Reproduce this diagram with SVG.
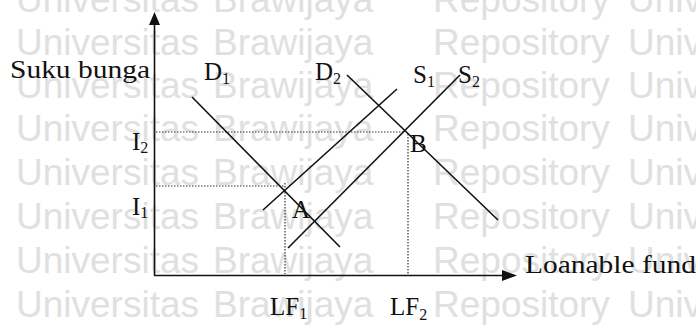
<svg xmlns="http://www.w3.org/2000/svg" width="696" height="327" viewBox="0 0 696 327">
<style>
.wm{font-family:"Liberation Sans",Arial,sans-serif;font-size:37px;fill:#e0e0e0}
.t{font-family:"Liberation Serif","Times New Roman",serif;font-size:25px;fill:#111}
.sub{font-size:16px}
.ln{stroke:#111;stroke-width:1.6;fill:none}
.dot{stroke:#333;stroke-width:1.2;stroke-dasharray:1.5 1.5;fill:none}
</style>
<rect width="696" height="327" fill="#fff"/>
<g id="watermark" class="wm">
<text x="16" y="12">Universitas</text><text x="213" y="12">Brawijaya</text><text x="433" y="12">Repository</text><text x="628" y="12">Universitas</text>
<text x="16" y="55">Universitas</text><text x="213" y="55">Brawijaya</text><text x="433" y="55">Repository</text><text x="628" y="55">Universitas</text>
<text x="16" y="98">Universitas</text><text x="213" y="98">Brawijaya</text><text x="433" y="98">Repository</text><text x="628" y="98">Universitas</text>
<text x="16" y="141">Universitas</text><text x="213" y="141">Brawijaya</text><text x="433" y="141">Repository</text><text x="628" y="141">Universitas</text>
<text x="16" y="185">Universitas</text><text x="213" y="185">Brawijaya</text><text x="433" y="185">Repository</text><text x="628" y="185">Universitas</text>
<text x="16" y="229">Universitas</text><text x="213" y="229">Brawijaya</text><text x="433" y="229">Repository</text><text x="628" y="229">Universitas</text>
<text x="16" y="273">Universitas</text><text x="213" y="273">Brawijaya</text><text x="433" y="273">Repository</text><text x="628" y="273">Universitas</text>
<text x="16" y="317">Universitas</text><text x="213" y="317">Brawijaya</text><text x="433" y="317">Repository</text><text x="628" y="317">Universitas</text>
</g>
<g id="axes">
<line class="ln" x1="154.5" y1="22" x2="154.5" y2="275.5"/>
<line class="ln" x1="154" y1="275.5" x2="504" y2="275.5"/>
<polygon points="154.5,12 149,25 160,25" fill="#111"/>
<polygon points="517,275.5 502,270 502,281" fill="#111"/>
</g>
<g id="connectors">
<line class="dot" x1="156" y1="132" x2="405" y2="132"/>
<line class="dot" x1="408" y1="134" x2="408" y2="274"/>
<line class="dot" x1="156" y1="186" x2="284" y2="186"/>
<line class="dot" x1="285" y1="183" x2="285" y2="274"/>
</g>
<g id="D1"><line class="ln" x1="192" y1="97" x2="340" y2="247"/></g>
<g id="D2"><line class="ln" x1="347" y1="75" x2="498" y2="220"/></g>
<g id="S1"><line class="ln" x1="397" y1="89" x2="263" y2="210"/></g>
<g id="S2"><line class="ln" x1="460" y1="75" x2="288" y2="248"/></g>
<g id="labels" class="t">
<text x="10" y="78" textLength="140" lengthAdjust="spacingAndGlyphs">Suku bunga</text>
<text x="204" y="80">D<tspan class="sub" dy="4">1</tspan></text>
<text x="315" y="80">D<tspan class="sub" dy="4">2</tspan></text>
<text x="413" y="83">S<tspan class="sub" dy="4">1</tspan></text>
<text x="458" y="83">S<tspan class="sub" dy="4">2</tspan></text>
<text x="132" y="150">I<tspan class="sub" dy="3">2</tspan></text>
<text x="132" y="215">I<tspan class="sub" dy="3">1</tspan></text>
<text x="292" y="218">A</text>
<text x="410" y="152">B</text>
<text x="270" y="315">LF<tspan class="sub" dy="4">1</tspan></text>
<text x="390" y="315">LF<tspan class="sub" dy="5">2</tspan></text>
<text x="525" y="273" textLength="171" lengthAdjust="spacingAndGlyphs">Loanable fund</text>
</g>
</svg>
